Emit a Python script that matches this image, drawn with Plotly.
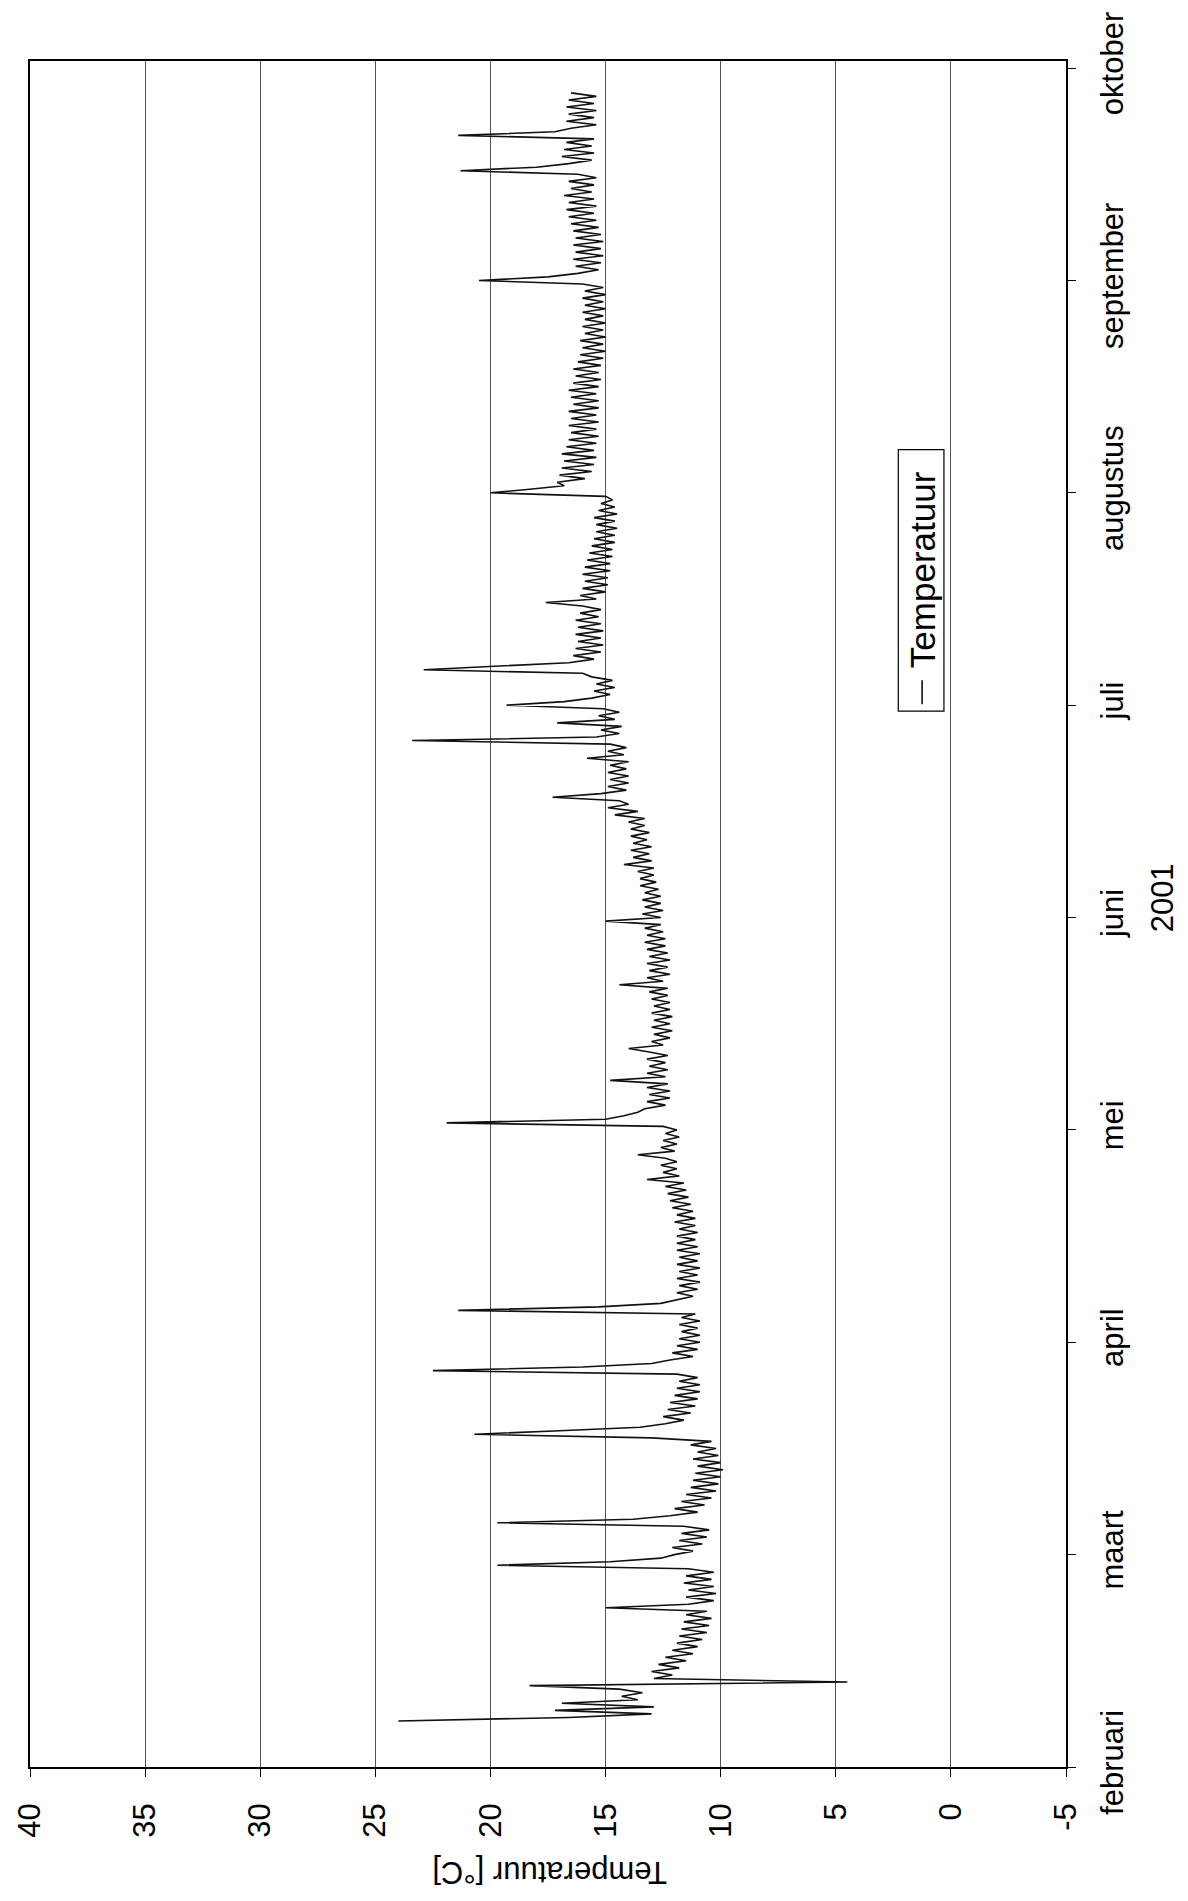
import numpy as np
import plotly.graph_objects as go

# Month labels on the time axis (evenly spaced, 30 sample-days per month)
maanden = ["februari", "maart", "april", "mei", "juni", "juli",
           "augustus", "september", "oktober"]
temp_ticks = [40, 35, 30, 25, 20, 15, 10, 5, 0, -5]
temp_ticktext = ["40", "35", "30", "25", "20", "15", "10", "5", "0", "-5"]

# Temperature readings, two per day (night / day), grouped per month
feb = [24.0, 16.6, 13.0, 17.2, 12.9, 16.9, 13.6, 14.3, 13.4, 14.4,
       18.3, 4.5, 12.9, 12.1, 13.0, 11.8, 12.7, 11.5, 12.4, 11.2,
       12.1, 11.0, 11.9, 10.8, 11.8, 10.6, 11.7, 10.5, 11.6, 10.4,
       11.5, 10.6, 15.0, 11.4, 10.3, 11.5, 10.2, 11.4, 10.3, 11.6,
       10.4, 11.5, 10.3, 11.4, 19.7, 14.8, 12.6]
maart = [12.0, 11.2, 12.1, 10.8, 11.8, 10.6, 11.7, 10.5, 11.6, 19.7,
         13.8, 12.2, 11.0, 12.0, 10.7, 11.7, 10.4, 11.5, 10.2, 11.3,
         10.1, 11.2, 10.0, 11.1, 9.9, 11.0, 10.0, 11.2, 10.1, 11.0,
         10.2, 11.3, 10.4, 13.0, 20.7, 17.0, 13.5, 12.4, 11.6, 12.5,
         11.3, 12.3, 11.1, 12.2, 11.0, 12.0, 10.9, 11.9, 10.9, 11.8,
         11.0, 11.9, 22.5, 16.0, 13.0, 12.2, 11.2, 12.1, 11.0, 11.9]
april = [10.9, 11.8, 10.9, 11.7, 11.0, 11.8, 10.9, 11.7, 11.1, 21.4,
         15.3, 12.6, 11.9, 11.2, 11.9, 11.0, 11.8, 10.9, 11.9, 11.0,
         11.8, 10.9, 11.9, 11.0, 11.8, 10.9, 11.9, 11.0, 11.9, 11.1,
         11.9, 11.0, 11.8, 11.1, 12.0, 11.1, 11.9, 11.2, 12.1, 11.3,
         12.2, 11.4, 12.3, 11.5, 12.4, 11.6, 13.2, 11.8, 12.5, 11.9,
         12.6, 11.9, 12.4, 13.6, 12.0, 12.6, 11.9, 12.5, 11.8, 12.4]
mei = [11.9, 12.5, 21.9, 15.0, 14.2, 13.6, 13.3, 12.4, 13.2, 12.2,
       13.1, 12.2, 13.2, 12.3, 14.8, 12.4, 13.2, 12.3, 13.1, 12.4,
       13.2, 12.3, 13.1, 14.0, 12.5, 13.0, 12.2, 12.9, 12.1, 13.0,
       12.2, 12.9, 12.1, 13.0, 12.2, 12.9, 12.2, 13.0, 12.3, 13.1,
       12.3, 14.4, 12.5, 13.2, 12.2, 13.1, 12.3, 13.2, 12.2, 13.1,
       12.3, 13.2, 12.4, 13.3, 12.4, 13.2, 12.5, 13.3, 12.6, 15.0]
juni = [12.6, 13.4, 12.5, 13.3, 12.6, 13.4, 12.6, 13.3, 12.7, 13.5,
        12.8, 13.5, 12.9, 13.6, 12.9, 14.2, 13.0, 13.8, 13.1, 13.9,
        13.0, 13.8, 13.2, 13.9, 13.1, 13.9, 13.3, 14.0, 13.3, 14.6,
        13.6, 14.9, 14.0, 14.4, 17.3, 15.2, 14.1, 14.9, 14.0, 14.8,
        14.0, 14.9, 14.1, 14.8, 14.0, 15.8, 14.2, 14.9, 14.1, 14.8,
        23.4, 15.4, 14.4, 15.2, 14.3, 17.1, 14.6, 15.3, 14.4, 15.1]
juli = [19.3, 16.8, 15.6, 14.8, 15.5, 14.6, 15.4, 14.7, 15.6, 16.0,
        22.9, 19.5, 16.6, 15.5, 16.4, 15.2, 16.3, 15.1, 16.2, 15.2,
        16.3, 15.1, 16.2, 15.2, 16.3, 15.3, 16.1, 15.2, 16.0, 17.6,
        15.4, 16.1, 15.0, 16.0, 14.9, 15.9, 14.9, 16.0, 14.8, 15.9,
        14.8, 15.8, 14.7, 15.7, 14.7, 15.6, 14.6, 15.5, 14.6, 15.4,
        14.5, 15.4, 14.6, 15.5, 14.5, 15.3, 14.6, 15.2, 14.7, 15.0]
augustus = [20.0, 18.3, 16.8, 17.1, 15.9, 17.0, 15.6, 16.9, 15.5, 16.8,
            15.4, 16.9, 15.5, 16.7, 15.4, 16.6, 15.3, 16.5, 15.4, 16.6,
            15.3, 16.5, 15.4, 16.6, 15.3, 16.4, 15.3, 16.5, 15.4, 16.6,
            15.3, 16.4, 15.2, 16.3, 15.3, 16.4, 15.2, 16.2, 15.1, 16.1,
            15.0, 16.0, 15.1, 16.1, 15.0, 15.9, 15.1, 16.0, 15.0, 15.9,
            15.1, 16.0, 15.0, 15.9, 15.1, 16.0, 15.0, 15.9, 15.1, 16.0]
september = [20.5, 17.5, 16.2, 15.3, 16.3, 15.2, 16.4, 15.1, 16.3, 15.2,
             16.4, 15.1, 16.3, 15.2, 16.4, 15.3, 16.5, 15.4, 16.6, 15.5,
             16.7, 15.4, 16.6, 15.5, 16.8, 15.6, 16.5, 15.5, 16.6, 15.4,
             16.2, 21.3, 18.0, 16.6, 15.6, 16.9, 15.5, 16.8, 15.6, 16.7,
             15.5, 21.4, 17.2, 16.5, 15.4, 16.7, 15.5, 16.6, 15.4, 16.7,
             15.5, 16.6, 15.4, 16.5]

temperatuur = feb + maart + april + mei + juni + juli + augustus + september
# sample time in days since the start of februari, every half day
dag = 6.5 + 0.5 * np.arange(len(temperatuur))

FONT = "Liberation Sans, Arial, sans-serif"

fig = go.Figure()
fig.add_trace(go.Scatter(
    x=temperatuur, y=dag, mode="lines",
    line=dict(color="#111111", width=1.6),
    name="Temperatuur", showlegend=False,
))

# plot area in pixels: x 22..1066, y 51..1767
L, R, T, B = 22, 1066, 51, 1767
W, H = 1188, 1901

def px(x):
    return (x - L) / (R - L)

def py(y):
    return (B - y) / (B - T)

fig.update_layout(
    width=W, height=H,
    margin=dict(l=L, r=W - R, t=T, b=H - B),
    paper_bgcolor="white", plot_bgcolor="white",
    font=dict(family=FONT, color="black", size=31),
    xaxis=dict(
        range=[40, -5], tickvals=temp_ticks, ticktext=temp_ticktext,
        tickangle=-90, tickfont=dict(size=31, family=FONT, color="black"),
        showgrid=True, gridcolor="#555555", gridwidth=1,
        showline=True, linecolor="black", linewidth=1.6, mirror=True,
        ticks="outside", ticklen=8, tickcolor="black", zeroline=False,
        ticklabelstandoff=14,
    ),
    yaxis=dict(
        range=[0, 241], side="right",
        tickvals=[30 * i for i in range(len(maanden))], ticktext=maanden,
        tickangle=-90, tickfont=dict(size=31, family=FONT, color="black"),
        showgrid=False, showline=True, linecolor="black", linewidth=1.6,
        mirror=True, ticks="outside", ticklen=8, tickcolor="black",
        zeroline=False, ticklabelstandoff=10,
    ),
)

# axis titles
fig.add_annotation(text="Temperatuur [°C]", xref="paper", yref="paper",
                   x=px(545), y=py(1873), xanchor="center", yanchor="middle",
                   showarrow=False, textangle=180,
                   font=dict(size=31, family=FONT, color="black"))
fig.add_annotation(text="2001", xref="paper", yref="paper",
                   x=px(1163), y=py(893), xanchor="center", yanchor="middle",
                   showarrow=False, textangle=-90,
                   font=dict(size=31, family=FONT, color="black"))

# legend box with rotated entry
fig.add_shape(type="rect", xref="paper", yref="paper",
              x0=px(897), x1=px(943), y0=py(705), y1=py(442),
              line=dict(color="black", width=1.2), fillcolor="white")
fig.add_shape(type="line", xref="paper", yref="paper",
              x0=px(921), x1=px(921), y0=py(698), y1=py(674),
              line=dict(color="#111111", width=1.6))
fig.add_annotation(text="Temperatuur", xref="paper", yref="paper",
                   x=px(921), y=py(563), xanchor="center", yanchor="middle",
                   showarrow=False, textangle=-90,
                   font=dict(size=35, family=FONT, color="black"))

fig.write_html("out.html")
